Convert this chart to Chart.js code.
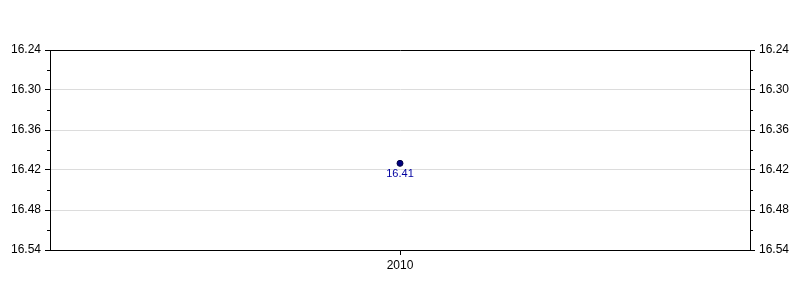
<!DOCTYPE html>
<html lang="en">
<head>
    <meta charset="UTF-8">
    <title>Single point chart</title>
    <script src="https://cdn.jsdelivr.net/npm/chart.js"></script>
    <style>
        body { margin: 0; background: #fff; }
        #wrap { width: 800px; height: 300px; }
    </style>
</head>
<body>
    <div id="wrap"><canvas id="chart" width="800" height="300"></canvas></div>

    <script>
        // data
        const years = ['2010'];
        const values = [16.41];
        const yMin = 16.24;
        const yMax = 16.54;
        const yStep = 0.06;

        const isEdge = v => Math.abs(v - yMin) < 1e-6 || Math.abs(v - yMax) < 1e-6;

        // short minor ticks between the labelled ones, on both side axes
        const minorTicks = {
            id: 'minorTicks',
            afterDraw(chart) {
                const ctx = chart.ctx;
                ctx.save();
                ctx.strokeStyle = '#000';
                ctx.lineWidth = 1;
                ['y', 'y2'].forEach(id => {
                    const s = chart.scales[id];
                    for (let v = yMin + yStep / 2; v < yMax; v += yStep) {
                        const py = Math.round(s.getPixelForValue(v)) + 0.5;
                        ctx.beginPath();
                        if (id === 'y') { ctx.moveTo(s.right - 3, py); ctx.lineTo(s.right, py); }
                        else { ctx.moveTo(s.left, py); ctx.lineTo(s.left + 3, py); }
                        ctx.stroke();
                    }
                });
                ctx.restore();
            }
        };

        // value labels under each point
        const pointLabels = {
            id: 'pointLabels',
            afterDatasetsDraw(chart) {
                const ctx = chart.ctx;
                const meta = chart.getDatasetMeta(0);
                ctx.save();
                ctx.font = '11px "Liberation Sans", Arial, sans-serif';
                ctx.fillStyle = '#0000a0';
                ctx.textAlign = 'center';
                ctx.textBaseline = 'top';
                meta.data.forEach((pt, i) => {
                    ctx.fillText(values[i].toFixed(2), pt.x, pt.y + 5);
                });
                ctx.restore();
            }
        };

        const tickFont = { family: '"Liberation Sans", Arial, sans-serif', size: 12 };

        const yAxis = (position) => ({
            type: 'linear',
            position: position,
            reverse: true,
            min: yMin,
            max: yMax,
            afterFit: s => { s.width = 50; },
            border: { display: true, color: '#000' },
            grid: {
                drawOnChartArea: position === 'left',
                color: c => isEdge(c.tick.value) ? '#000' : '#dcdcdc',
                tickColor: '#000',
                tickLength: 5
            },
            ticks: {
                stepSize: yStep,
                padding: 4,
                color: '#000',
                font: tickFont,
                callback: v => v.toFixed(2)
            }
        });

        new Chart(document.getElementById('chart').getContext('2d'), {
            type: 'line',
            data: {
                labels: years,
                datasets: [{
                    data: values,
                    showLine: false,
                    pointRadius: 3,
                    pointBackgroundColor: '#000080',
                    pointBorderColor: '#000040',
                    pointBorderWidth: 1
                }]
            },
            options: {
                responsive: false,
                animation: false,
                layout: { padding: { top: 50, left: 0, right: 0, bottom: 0 } },
                plugins: {
                    legend: { display: false },
                    tooltip: { enabled: false }
                },
                scales: {
                    x: {
                        type: 'category',
                        offset: true,
                        afterFit: s => { s.height = 50; },
                        border: { display: true, color: '#000' },
                        grid: {
                            offset: false,
                            drawOnChartArea: false,
                            tickColor: '#000',
                            tickLength: 5
                        },
                        ticks: {
                            padding: 3,
                            color: '#000',
                            font: tickFont
                        }
                    },
                    y: yAxis('left'),
                    y2: yAxis('right')
                }
            },
            plugins: [minorTicks, pointLabels]
        });
    </script>
</body>
</html>
